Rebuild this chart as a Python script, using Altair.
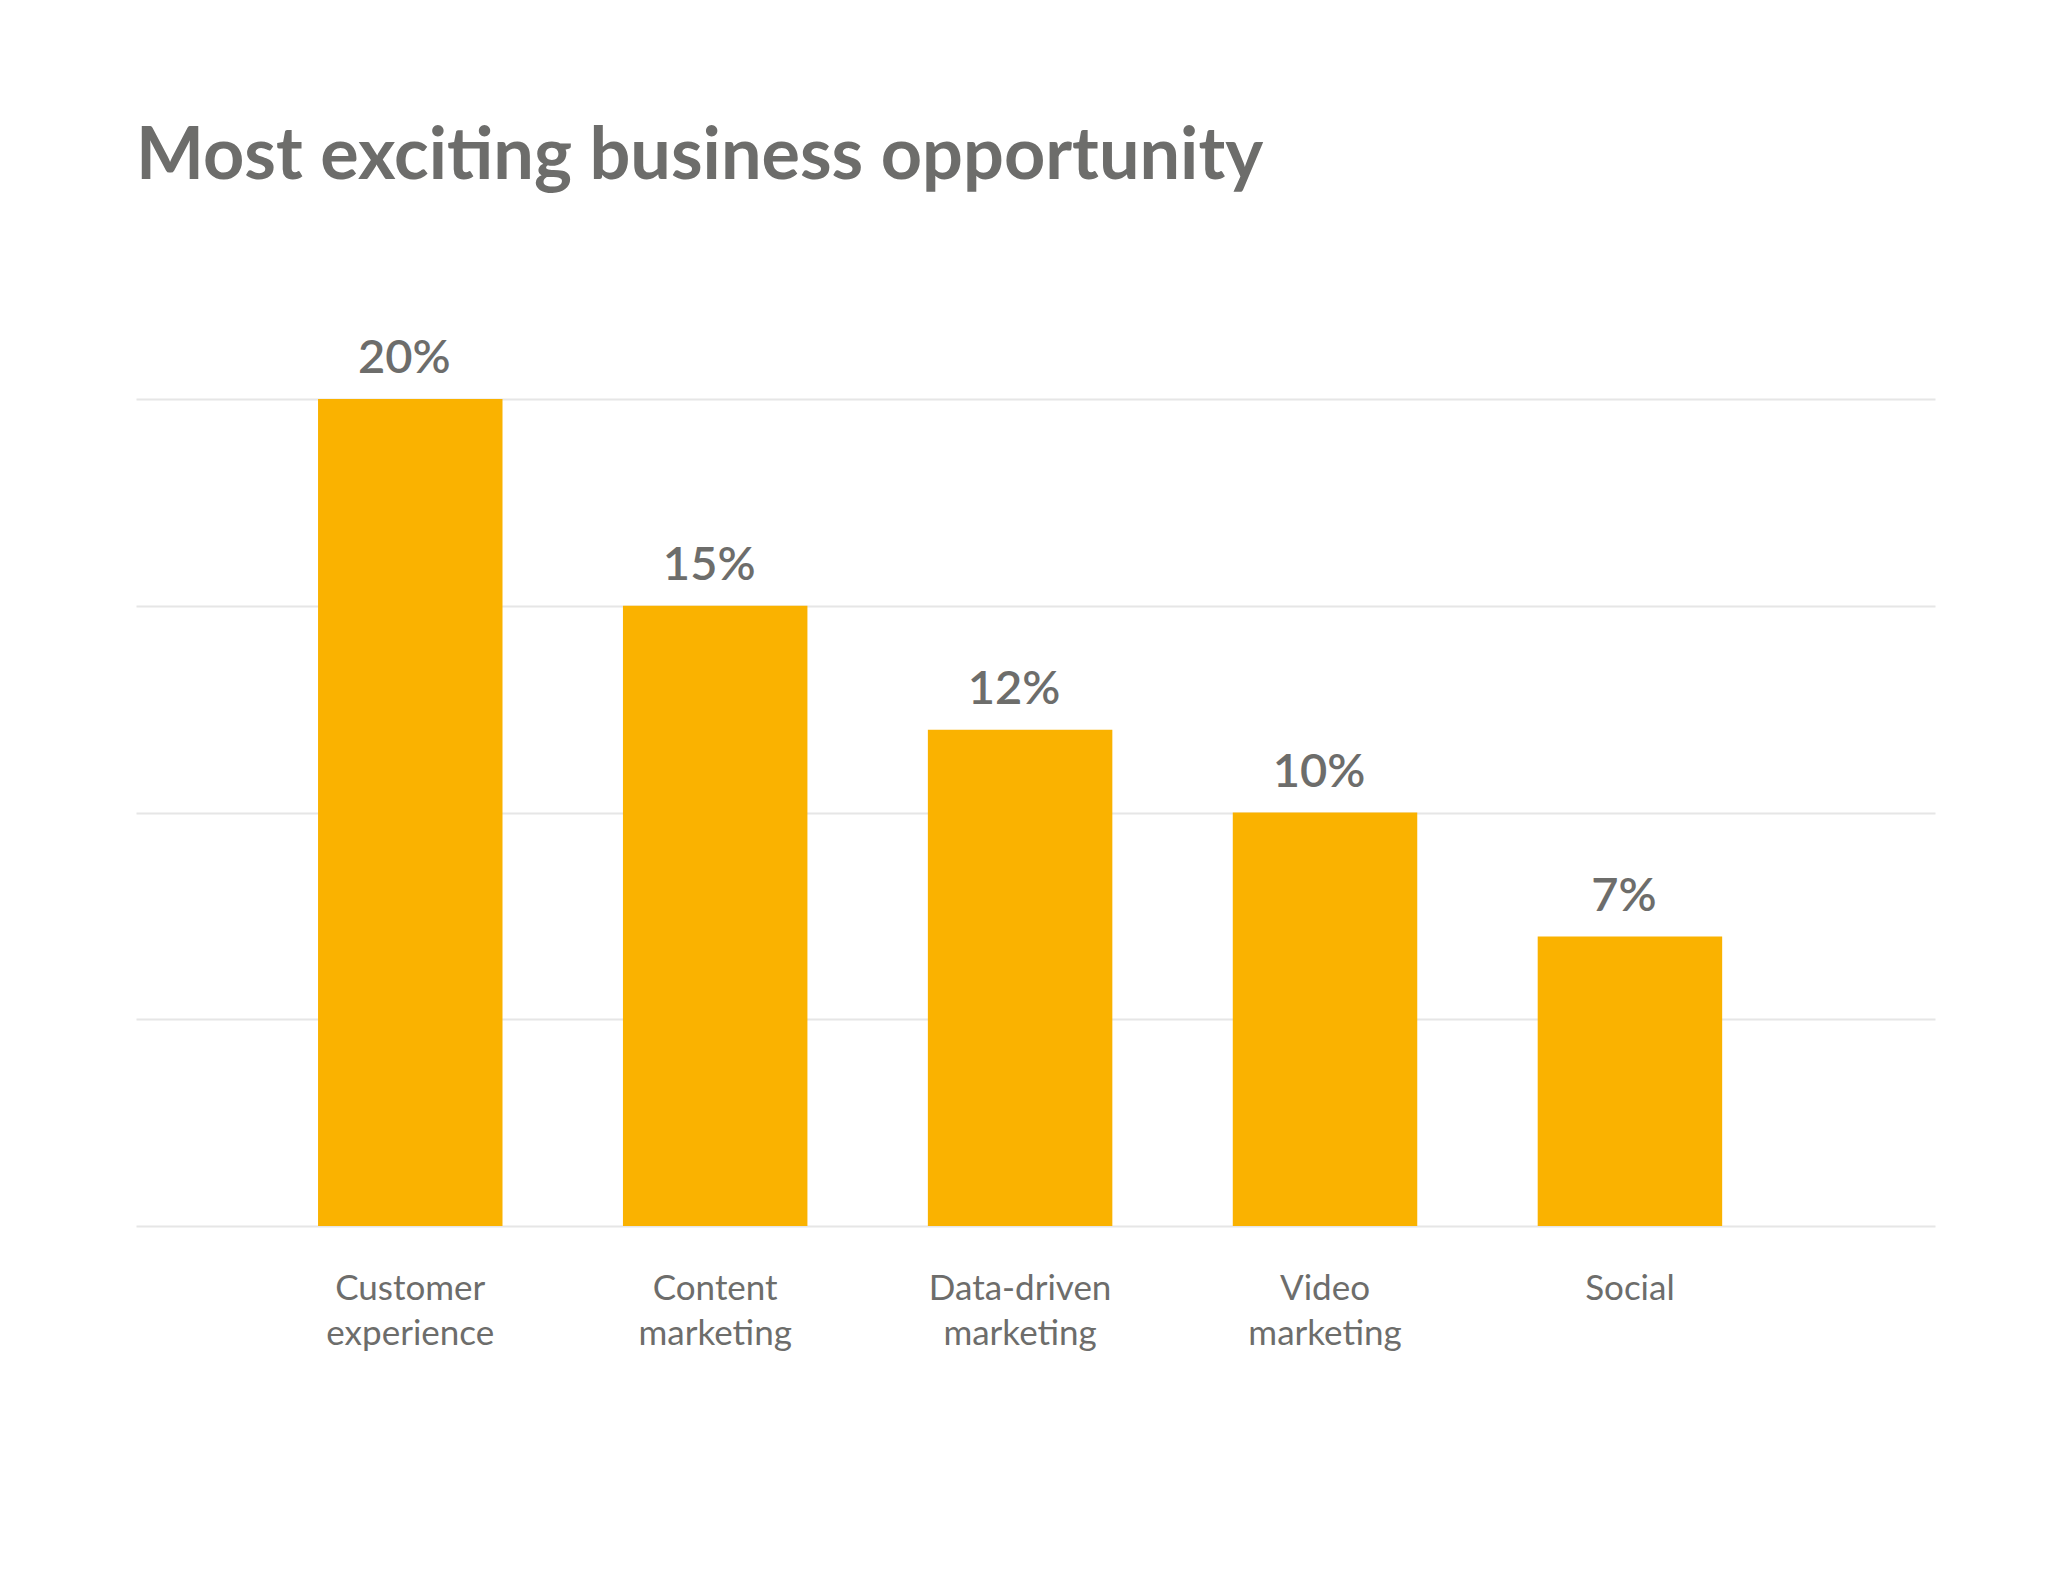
import altair as alt
import pandas as pd

categories = ["Customer experience", "Content marketing", "Data-driven marketing", "Video marketing", "Social"]
values = [20, 15, 12, 10, 7]
labels = ["20%", "15%", "12%", "10%", "7%"]

df = pd.DataFrame({"category": categories, "value": values, "label": labels})

GREY = "#6d6d6b"
BAR = "#FAB200"
FONT = "Lato"

x_enc = alt.X(
    "category:N",
    sort=categories,
    title=None,
    scale=alt.Scale(paddingInner=0.395, paddingOuter=0.6475, align=0.461),
    axis=alt.Axis(
        labelExpr="split(datum.label, ' ')",
        labelFont=FONT,
        labelFontSize=35,
        labelColor=GREY,
        labelLineHeight=45,
        labelPadding=45,
        labelAngle=0,
        labelLimit=500,
        ticks=False,
        domain=False,
        grid=False,
        labelBaseline="top",
    ),
)

y_enc = alt.Y(
    "value:Q",
    title=None,
    scale=alt.Scale(domain=[0, 20], nice=False),
    axis=alt.Axis(
        values=[0, 5, 10, 15, 20],
        labels=False,
        ticks=False,
        domain=False,
        grid=True,
        gridColor="#e6e6e6",
        gridWidth=2,
    ),
)

bars = alt.Chart(df).mark_bar(color=BAR).encode(x=x_enc, y=y_enc)

text = alt.Chart(df).mark_text(
    font=FONT,
    fontSize=47,
    fontWeight=600,
    color=GREY,
    baseline="alphabetic",
    dy=-26,
    dx=-6,
).encode(x=alt.X("category:N", sort=categories), y="value:Q", text="label:N")

chart = (
    alt.layer(bars, text)
    .properties(
        width=1799,
        height=827,
        title=alt.TitleParams(
            "Most exciting business opportunity",
            anchor="start",
            frame="group",
            font=FONT,
            fontSize=72,
            fontWeight="bold",
            color=GREY,
            baseline="alphabetic",
            offset=84,
        ),
        autosize=alt.AutoSizeParams(type="none"),
        padding={"left": 128, "top": 391, "right": 127, "bottom": 359},
    )
    .configure(background="white")
    .configure_view(stroke=None)
)

chart.save("out.html", embed_options={"renderer": "svg", "actions": False})
